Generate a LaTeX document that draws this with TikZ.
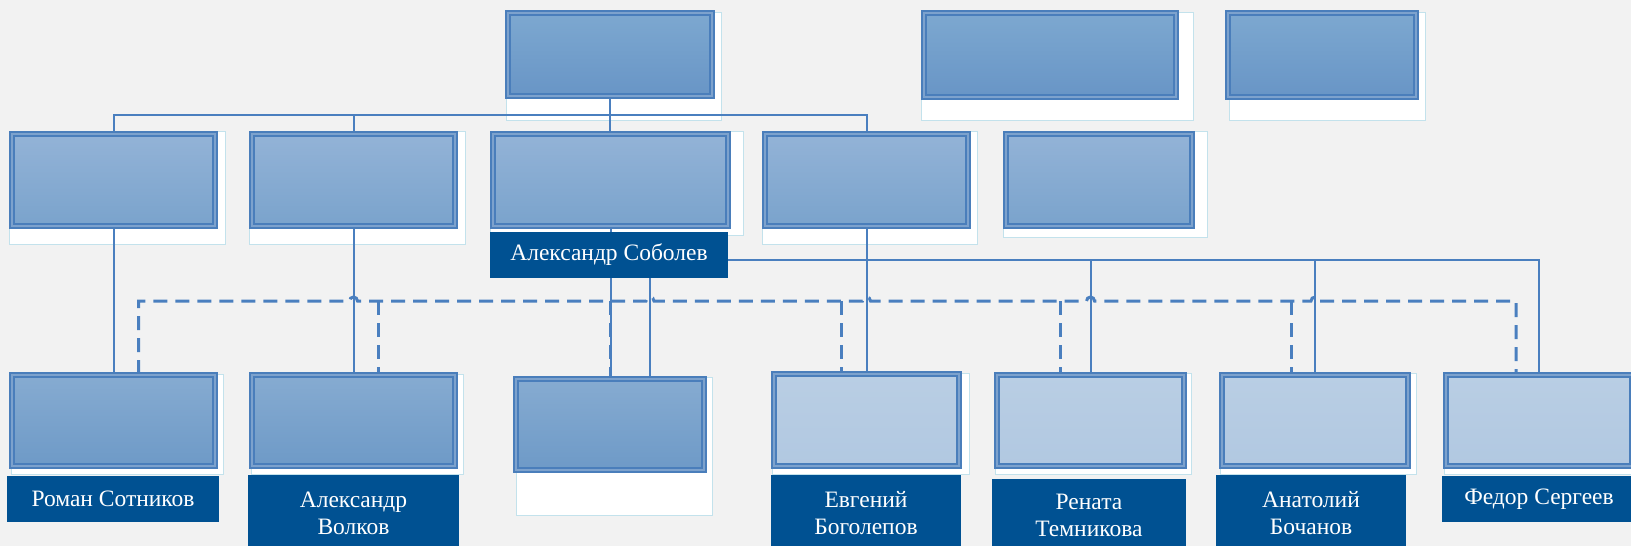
\documentclass[tikz,border=0pt]{standalone}
\usepackage{fontspec}
\setmainfont{Liberation Serif}
\pgfdeclarelayer{back}
\pgfsetlayers{back,main}
\definecolor{pagebg}{HTML}{F2F2F2}
\definecolor{namebg}{RGB}{0,81,146}
\definecolor{boxline}{HTML}{4A7EBB}
\definecolor{boxband}{HTML}{7DA2CD}
\definecolor{linecol}{HTML}{4A7FBF}
\definecolor{frameline}{HTML}{C3E2EC}
\definecolor{chiefA}{HTML}{7DA8D0}
\definecolor{chiefB}{HTML}{6895C6}
\definecolor{deptA}{HTML}{93B3D7}
\definecolor{deptB}{HTML}{7AA3CC}
\definecolor{staffA}{HTML}{86ABD1}
\definecolor{staffB}{HTML}{6E9AC7}
\definecolor{lightA}{HTML}{B9CEE4}
\definecolor{lightB}{HTML}{B1C8E1}
\begin{document}
\begin{tikzpicture}[x=1pt, y=-1pt,
  box/.style = {draw=boxline, double=boxband, double distance=2.4pt, line width=1.6pt, inner sep=0pt},
  chief/.style = {box, top color=chiefA, bottom color=chiefB},
  dept/.style = {box, top color=deptA, bottom color=deptB},
  staff/.style = {box, top color=staffA, bottom color=staffB},
  trainee/.style = {box, top color=lightA, bottom color=lightB},
  nametag/.style = {fill=namebg, text=white, align=center, inner sep=0pt, font=\fontsize{23.5}{27}\selectfont},
  textframe/.style = {fill=white, draw=frameline, line width=0.8pt},
  link/.style = {draw=linecol, line width=2pt},
  dashlink/.style = {draw=linecol, line width=3pt, dash pattern=on 14pt off 8pt}]
\useasboundingbox (0,0) rectangle (1631,546);
% top row
\node[chief, minimum width=204pt, minimum height=83pt] (boss) at (610,54.5) {};
\node[chief, minimum width=252pt, minimum height=84pt] (sec1) at (1050,55) {};
\node[chief, minimum width=188pt, minimum height=84pt] (sec2) at (1322,55) {};
% departments
\node[dept, minimum width=203pt, minimum height=92pt] (dep1) at (113.5,180) {};
\node[dept, minimum width=203pt, minimum height=92pt] (dep2) at (353.5,180) {};
\node[dept, minimum width=235pt, minimum height=92pt] (dep3) at (610.5,180) {};
\node[dept, minimum width=203pt, minimum height=92pt] (dep4) at (866.5,180) {};
\node[dept, minimum width=186pt, minimum height=92pt] (dep5) at (1099,180) {};
% staff
\node[staff, minimum width=203pt, minimum height=91pt] (emp1) at (113.5,420.5) {};
\node[staff, minimum width=203pt, minimum height=91pt] (emp2) at (353.5,420.5) {};
\node[staff, minimum width=188pt, minimum height=91pt] (emp3) at (610,424.5) {};
\node[trainee, minimum width=185pt, minimum height=92pt] (emp4) at (866.5,420) {};
\node[trainee, minimum width=187pt, minimum height=91pt] (emp5) at (1090.5,420.5) {};
\node[trainee, minimum width=186pt, minimum height=91pt] (emp6) at (1315,420.5) {};
\node[trainee, minimum width=186pt, minimum height=91pt] (emp7) at (1539,420.5) {};
% names
\node[nametag, minimum width=238pt, minimum height=46pt] (lSobolev) at (609,255) {Александр Соболев};
\node[nametag, minimum width=212pt, minimum height=46pt] (lRoman) at (113,499) {Роман Сотников};
\node[nametag, minimum width=211pt, minimum height=76pt] (lVolkov) at (353.5,513) {Александр\\Волков};
\node[nametag, minimum width=190pt, minimum height=76pt] (lBogolepov) at (866,513) {Евгений\\Боголепов};
\node[nametag, minimum width=194pt, minimum height=72pt] (lRenata) at (1089,515) {Рената\\Темникова};
\node[nametag, minimum width=190pt, minimum height=76pt] (lAnatoly) at (1311,513) {Анатолий\\Бочанов};
\node[nametag, minimum width=194pt, minimum height=46pt] (lFedor) at (1539,499) {Федор Сергеев};
\coordinate (busA) at (0,115);
\coordinate (busB) at (0,260);
\coordinate (busC) at (0,301);
\begin{pgfonlayer}{back}
\fill[pagebg] (0,0) rectangle (1631,546);
% text frames behind the boxes
\draw[textframe] (506,12) rectangle (721,120);
\draw[textframe] (921,12) rectangle (1193,120);
\draw[textframe] (1229,12) rectangle (1425,120);
\draw[textframe] (9,131) rectangle (225,244);
\draw[textframe] (249,131) rectangle (465,244);
\draw[textframe] (490,131) rectangle (743,235);
\draw[textframe] (762,131) rectangle (977,244);
\draw[textframe] (1003,131) rectangle (1207,237);
\draw[textframe] (11,374) rectangle (223,474);
\draw[textframe] (251,374) rectangle (463,474);
\draw[textframe] (516,377) rectangle (712,515);
\draw[textframe] (772,373) rectangle (969,474);
\draw[textframe] (995,373) rectangle (1191,474);
\draw[textframe] (1220,373) rectangle (1416,474);
\draw[textframe] (1444,373) rectangle (1640,474);
% solid links
\draw[link] (boss.south) -- (boss.south |- dep3.north);
\draw[link] (dep1.north) |- (dep4.north |- busA) -- (dep4.north);
\draw[link] (dep2.north) -- (dep2.north |- busA);
\foreach \d/\e in {dep1/emp1, dep2/emp2, dep4/emp4}
  \draw[link] (\d.south) -- (\e.north);
\draw[link] (dep3.south) -- (dep3.south |- emp3.north);
\draw[link] ([xshift=40pt]emp3.north) -- ([xshift=40pt]emp3.north |- lSobolev.south);
\draw[link] (lSobolev.east |- busB) -| (emp7.north);
\draw[link] (emp5.north) -- (emp5.north |- busB);
\draw[link] (emp6.north) -- (emp6.north |- busB);
% dashed links
\draw[dashlink] ([xshift=25pt]emp1.north) |- ([xshift=-4pt]dep2.south |- busC)
  arc[start angle=180, end angle=360, radius=4]
  -- ([xshift=36pt]emp3.north |- busC) arc[start angle=180, end angle=360, radius=4]
  -- ([xshift=-4pt]dep4.south |- busC) arc[start angle=180, end angle=360, radius=4]
  -- ([xshift=-4pt]emp5.north |- busC) arc[start angle=180, end angle=360, radius=4]
  -- ([xshift=-4pt]emp6.north |- busC) arc[start angle=180, end angle=360, radius=4]
  -- ([xshift=-23pt]emp7.north |- busC) -- ([xshift=-23pt]emp7.north);
\foreach \e/\s in {emp2/25, emp3/0, emp4/-25, emp5/-30, emp6/-24}
  \draw[dashlink] ([xshift=\s pt]\e.north |- busC) -- ([xshift=\s pt]\e.north);
\end{pgfonlayer}
\end{tikzpicture}
\end{document}
